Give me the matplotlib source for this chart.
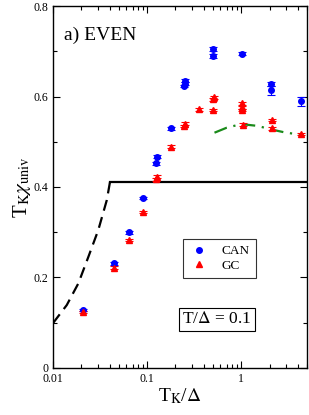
import matplotlib
matplotlib.use('Agg')
import matplotlib.pyplot as plt
from matplotlib.ticker import FixedLocator, MultipleLocator, FuncFormatter

plt.rcParams['font.family'] = ['Liberation Serif', 'DejaVu Serif']
plt.rcParams['mathtext.fontset'] = 'stix'

# canonical (CAN) results
can_x = [0.021, 0.0446, 0.0638, 0.09, 0.125, 0.128, 0.18, 0.248, 0.255, 0.251,
         0.50, 0.50, 1.02, 2.08, 2.08, 4.3]
can_y = [0.128, 0.231, 0.300, 0.376, 0.452, 0.467, 0.530, 0.623, 0.635, 0.628,
         0.705, 0.690, 0.695, 0.628, 0.614, 0.590]
can_err = [0.003, 0.003, 0.003, 0.003, 0.003, 0.003, 0.003, 0.003, 0.003, 0.003,
           0.004, 0.004, 0.003, 0.005, 0.010, 0.010]

# grand canonical (GC) results
gc_x = [0.021, 0.0446, 0.0638, 0.09, 0.125, 0.128, 0.18, 0.248, 0.255, 0.36,
        0.50, 0.51, 0.50, 1.02, 1.02, 1.02, 1.04, 2.1, 2.1, 4.3]
gc_y = [0.124, 0.222, 0.283, 0.345, 0.417, 0.423, 0.489, 0.535, 0.540, 0.572,
        0.594, 0.598, 0.570, 0.585, 0.576, 0.570, 0.538, 0.548, 0.530, 0.517]
gc_err = [0.003] * len(gc_x)

# low-T_K dashed curve and plateau
dash_x = [0.01, 0.0140, 0.0186, 0.0238, 0.0303, 0.0373, 0.0404]
dash_y = [0.099, 0.139, 0.187, 0.246, 0.305, 0.371, 0.412]
flat_x = [0.0404, 5.0]
flat_y = [0.412, 0.412]

# green dash-dot curve
green_x = [0.52, 0.7, 1.0, 1.5, 2.0, 3.0, 4.6]
green_y = [0.520, 0.531, 0.539, 0.535, 0.528, 0.520, 0.515]

fig = plt.figure(figsize=(3.09, 4.15), dpi=100)
ax = fig.add_axes([0.1715, 0.1133, 0.822, 0.8722])

ax.plot(dash_x, dash_y, color='black', linestyle=(0, (5, 3)), linewidth=1.6)
ax.plot(flat_x, flat_y, color='black', linewidth=1.6)
ax.plot(green_x, green_y, color='#1a8a1a', linestyle=(0, (6, 3, 1, 3)), linewidth=1.6)

ax.errorbar(can_x, can_y, yerr=can_err, fmt='o', color='blue', markersize=4,
            capsize=3, elinewidth=0.8, capthick=0.8, label='CAN')
ax.errorbar(gc_x, gc_y, yerr=gc_err, fmt='^', color='red', markersize=5,
            capsize=3, elinewidth=0.8, capthick=0.8, label='GC')

ax.set_xscale('log')
ax.set_xlim(0.01, 5.0)
ax.set_ylim(0, 0.8)

ax.xaxis.set_major_locator(FixedLocator([0.01, 0.1, 1]))
ax.xaxis.set_major_formatter(FuncFormatter(lambda v, p: '%g' % v))
ax.yaxis.set_major_locator(MultipleLocator(0.2))
ax.yaxis.set_minor_locator(MultipleLocator(0.1))
ax.yaxis.set_major_formatter(FuncFormatter(lambda v, p: '%g' % round(v, 2)))

ax.tick_params(which='both', direction='in', top=True, right=True, labelsize=8.5, width=0.8)
ax.tick_params(which='major', length=5)
ax.tick_params(which='minor', length=3)
for s in ax.spines.values():
    s.set_linewidth(1.0)

ax.set_xlabel(r'T$_\mathrm{K}$/$\Delta$', fontsize=14, labelpad=1)
ax.set_ylabel(r'T$_\mathrm{K}\chi_\mathrm{univ}$', fontsize=15, labelpad=0)

ax.text(0.043, 0.92, 'a) EVEN', transform=ax.transAxes, fontsize=14,
        va='center', ha='left')
ax.text(0.646, 0.135, r'T/$\Delta$ = 0.1', transform=ax.transAxes, fontsize=12.5,
        va='center', ha='center',
        bbox=dict(boxstyle='square,pad=0.2', facecolor='white', edgecolor='black', linewidth=0.8))

handles = [plt.Line2D([], [], marker='o', color='blue', linestyle='none', markersize=4),
           plt.Line2D([], [], marker='^', color='red', linestyle='none', markersize=5)]
leg = ax.legend(handles, ['CAN', 'GC'], loc='upper left', bbox_to_anchor=(0.511, 0.3555),
                borderaxespad=0, fontsize=9.5, frameon=True, fancybox=False,
                handletextpad=1.0, borderpad=0.45, labelspacing=0.15, handlelength=1.5)
leg.get_frame().set_edgecolor('black')
leg.get_frame().set_linewidth(0.8)

plt.savefig('out.png', dpi=100)
plt.close()
